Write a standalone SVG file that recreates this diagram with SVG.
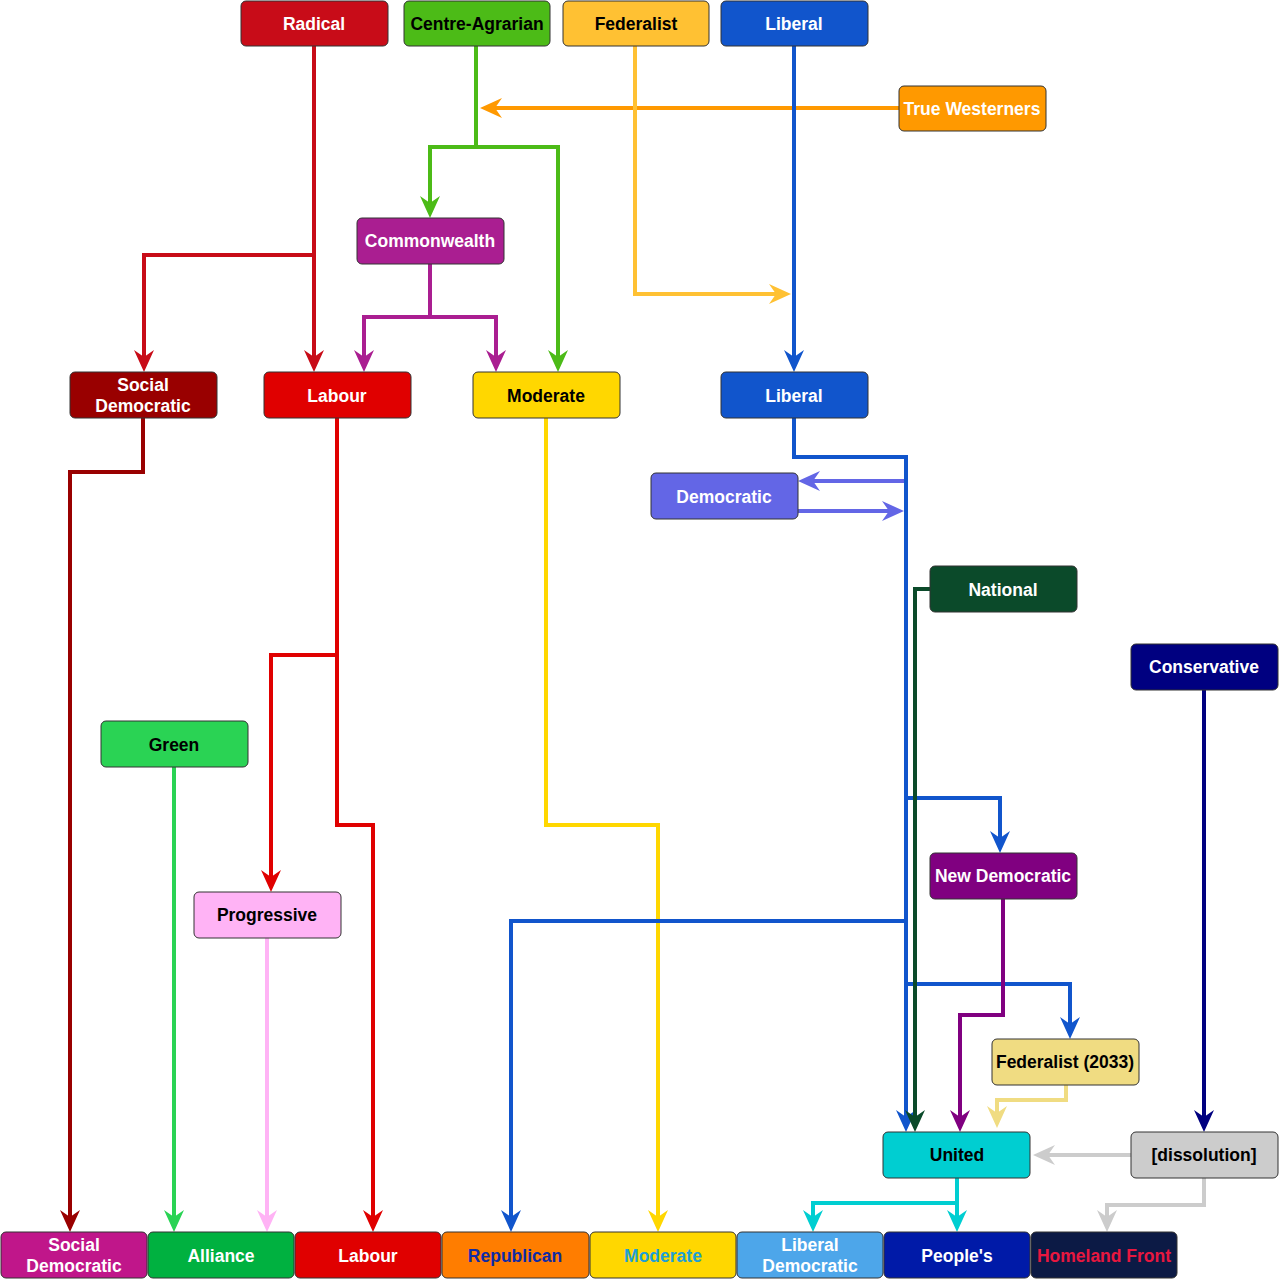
<svg xmlns="http://www.w3.org/2000/svg" xmlns:xlink="http://www.w3.org/1999/xlink" width="1280" height="1279" viewBox="0 0 1280 1279">
<style>
.n{stroke:#333;stroke-width:1}
.t{font-family:"Liberation Sans",Arial,sans-serif;font-weight:bold;font-size:17.5px;text-anchor:middle;dominant-baseline:central}
.w{fill:#fff}.b{fill:#000}
.c{fill:none;stroke-width:4;stroke-linejoin:miter}
</style>
<defs>
<path id="ah" d="M0,0 L-10,-22 L0,-15 L10,-22 Z"/>
</defs>
<rect width="1280" height="1279" fill="#fff"/>
<g id="connectors">
<path class="c" stroke="#C80C18" d="M314,46 V362 M314,255 H144 V362"/>
<use href="#ah" transform="translate(314,372)" fill="#C80C18"/>
<use href="#ah" transform="translate(144,372)" fill="#C80C18"/>
<path class="c" stroke="#4CBB17" d="M476,46 V147 M430,208 V147 H558 V362"/>
<use href="#ah" transform="translate(430,218)" fill="#4CBB17"/>
<use href="#ah" transform="translate(558,372)" fill="#4CBB17"/>
<path class="c" stroke="#FF9900" d="M899,108 H490"/>
<use href="#ah" transform="translate(480,108) rotate(90)" fill="#FF9900"/>
<path class="c" stroke="#FFC133" d="M635,46 V294 H780"/>
<use href="#ah" transform="translate(791,294) rotate(-90)" fill="#FFC133"/>
<path class="c" stroke="#1155CC" d="M794,46 V362"/>
<use href="#ah" transform="translate(794,372)" fill="#1155CC"/>
<path class="c" stroke="#AA1E91" d="M430,264 V317 M364,362 V317 H496 V362"/>
<use href="#ah" transform="translate(364,372)" fill="#AA1E91"/>
<use href="#ah" transform="translate(496,372)" fill="#AA1E91"/>
<path class="c" stroke="#990000" d="M143,418 V472 H70 V1222"/>
<use href="#ah" transform="translate(70,1232)" fill="#990000"/>
<path class="c" stroke="#E00000" d="M337,418 V825 H373 V1222 M337,655 H271 V882"/>
<use href="#ah" transform="translate(271,892)" fill="#E00000"/>
<use href="#ah" transform="translate(373,1232)" fill="#E00000"/>
<path class="c" stroke="#FFD700" d="M546,418 V825 H658 V1222"/>
<use href="#ah" transform="translate(658,1232)" fill="#FFD700"/>
<path class="c" stroke="#6366E6" d="M906,481 H808 M798,511 H893"/>
<use href="#ah" transform="translate(798,481) rotate(90)" fill="#6366E6"/>
<use href="#ah" transform="translate(904,511) rotate(-90)" fill="#6366E6"/>
<path class="c" stroke="#1155CC" d="M794,418 V457 H906 V1122 M906,798 H1000 V843 M906,921 H511 V1222 M906,984 H1070 V1029"/>
<use href="#ah" transform="translate(906,1132)" fill="#1155CC"/>
<use href="#ah" transform="translate(1000,853)" fill="#1155CC"/>
<use href="#ah" transform="translate(511,1232)" fill="#1155CC"/>
<use href="#ah" transform="translate(1070,1039)" fill="#1155CC"/>
<path class="c" stroke="#0B4A2A" d="M930,589 H915 V1122"/>
<use href="#ah" transform="translate(915,1132)" fill="#0B4A2A"/>
<path class="c" stroke="#000080" d="M1204,690 V1122"/>
<use href="#ah" transform="translate(1204,1132)" fill="#000080"/>
<path class="c" stroke="#2AD354" d="M174,767 V1222"/>
<use href="#ah" transform="translate(174,1232)" fill="#2AD354"/>
<path class="c" stroke="#800080" d="M1003,899 V1015 H960 V1122"/>
<use href="#ah" transform="translate(960,1132)" fill="#800080"/>
<path class="c" stroke="#FFB3F5" d="M267,938 V1222"/>
<use href="#ah" transform="translate(267,1232)" fill="#FFB3F5"/>
<path class="c" stroke="#F0DC82" d="M1066,1085 V1100 H997 V1118"/>
<use href="#ah" transform="translate(997,1128)" fill="#F0DC82"/>
<path class="c" stroke="#00CED1" d="M957,1178 V1222 M957,1203 H813 V1222"/>
<use href="#ah" transform="translate(957,1232)" fill="#00CED1"/>
<use href="#ah" transform="translate(813,1232)" fill="#00CED1"/>
<path class="c" stroke="#CCCCCC" d="M1131,1155 H1043 M1204,1178 V1205 H1107 V1222"/>
<use href="#ah" transform="translate(1033,1155) rotate(90)" fill="#CCCCCC"/>
<use href="#ah" transform="translate(1107,1232)" fill="#CCCCCC"/>
</g>
<g id="radical"><rect class="n" x="241" y="1" width="147" height="45" rx="5" fill="#C80C18"/><text class="t w" x="314" y="24">Radical</text></g>
<g id="centre-agrarian"><rect class="n" x="404" y="1" width="146" height="45" rx="5" fill="#4CBB17"/><text class="t b" x="477" y="24">Centre-Agrarian</text></g>
<g id="federalist"><rect class="n" x="563" y="1" width="146" height="45" rx="5" fill="#FFC133"/><text class="t b" x="636" y="24">Federalist</text></g>
<g id="liberal"><rect class="n" x="721" y="1" width="147" height="45" rx="5" fill="#1155CC"/><text class="t w" x="794" y="24">Liberal</text></g>
<g id="true-westerners"><rect class="n" x="899" y="86" width="147" height="45" rx="5" fill="#FF9900"/><text class="t w" x="972" y="109">True Westerners</text></g>
<g id="commonwealth"><rect class="n" x="357" y="218" width="147" height="46" rx="5" fill="#AA1E91"/><text class="t w" x="430" y="241">Commonwealth</text></g>
<g id="social-democratic"><rect class="n" x="70" y="372" width="147" height="46" rx="5" fill="#990000"/><text class="t w" x="143" y="385">Social</text><text class="t w" x="143" y="406">Democratic</text></g>
<g id="labour"><rect class="n" x="264" y="372" width="147" height="46" rx="5" fill="#E00000"/><text class="t w" x="337" y="396">Labour</text></g>
<g id="moderate"><rect class="n" x="473" y="372" width="147" height="46" rx="5" fill="#FFD700"/><text class="t b" x="546" y="396">Moderate</text></g>
<g id="liberal-2"><rect class="n" x="721" y="372" width="147" height="46" rx="5" fill="#1155CC"/><text class="t w" x="794" y="396">Liberal</text></g>
<g id="democratic"><rect class="n" x="651" y="473" width="147" height="46" rx="5" fill="#6366E6"/><text class="t w" x="724" y="497">Democratic</text></g>
<g id="national"><rect class="n" x="930" y="566" width="147" height="46" rx="5" fill="#0B4A2A"/><text class="t w" x="1003" y="590">National</text></g>
<g id="conservative"><rect class="n" x="1131" y="644" width="147" height="46" rx="5" fill="#000080"/><text class="t w" x="1204" y="667">Conservative</text></g>
<g id="green"><rect class="n" x="101" y="721" width="147" height="46" rx="5" fill="#2AD354"/><text class="t b" x="174" y="745">Green</text></g>
<g id="new-democratic"><rect class="n" x="930" y="853" width="147" height="46" rx="5" fill="#800080"/><text class="t w" x="1003" y="876">New Democratic</text></g>
<g id="progressive"><rect class="n" x="194" y="892" width="147" height="46" rx="5" fill="#FFB3F5"/><text class="t b" x="267" y="915">Progressive</text></g>
<g id="federalist-2033"><rect class="n" x="992" y="1039" width="147" height="46" rx="5" fill="#F0DC82"/><text class="t b" x="1065" y="1062">Federalist (2033)</text></g>
<g id="united"><rect class="n" x="883" y="1132" width="147" height="46" rx="5" fill="#00CED1"/><text class="t b" x="957" y="1155">United</text></g>
<g id="dissolution"><rect class="n" x="1131" y="1132" width="147" height="46" rx="5" fill="#CCCCCC"/><text class="t b" x="1204" y="1155">[dissolution]</text></g>
<g id="b-social-democratic"><rect class="n" x="1" y="1232" width="146" height="46" rx="5" fill="#C0168A"/><text class="t w" x="74" y="1245">Social</text><text class="t w" x="74" y="1266">Democratic</text></g>
<g id="b-alliance"><rect class="n" x="148" y="1232" width="146" height="46" rx="5" fill="#00B140"/><text class="t w" x="221" y="1256">Alliance</text></g>
<g id="b-labour"><rect class="n" x="295" y="1232" width="146" height="46" rx="5" fill="#E00000"/><text class="t w" x="368" y="1256">Labour</text></g>
<g id="b-republican"><rect class="n" x="442" y="1232" width="147" height="46" rx="5" fill="#FF7D00"/><text class="t" x="515" y="1256" fill="#0D2BA6">Republican</text></g>
<g id="b-moderate"><rect class="n" x="590" y="1232" width="146" height="46" rx="5" fill="#FFD700"/><text class="t" x="663" y="1256" fill="#1E9FD4">Moderate</text></g>
<g id="b-liberal-democratic"><rect class="n" x="737" y="1232" width="146" height="46" rx="5" fill="#4DA6EA"/><text class="t w" x="810" y="1245">Liberal</text><text class="t w" x="810" y="1266">Democratic</text></g>
<g id="b-peoples"><rect class="n" x="884" y="1232" width="146" height="46" rx="5" fill="#001AA8"/><text class="t w" x="957" y="1256">People's</text></g>
<g id="b-homeland-front"><rect class="n" x="1031" y="1232" width="146" height="46" rx="5" fill="#0C1A45"/><text class="t" x="1104" y="1256" fill="#E8173F">Homeland Front</text></g>
</svg>
